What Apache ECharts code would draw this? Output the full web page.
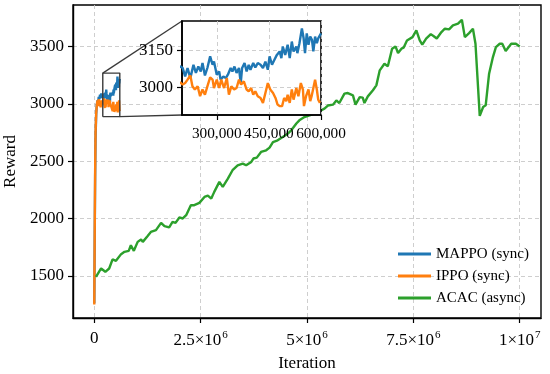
<!DOCTYPE html>
<html><head><meta charset="utf-8">
<script src="https://cdn.jsdelivr.net/npm/echarts@6/dist/echarts.min.js"></script>
<style>html,body{margin:0;padding:0;background:#fff}#c{width:550px;height:374px}</style>
</head><body><div id="c"></div>
<script>
// ---------------- data ----------------
const seriesNames = ['MAPPO (sync)', 'IPPO (sync)', 'ACAC (async)'];
const seriesColors = ['#1f77b4', '#ff7f0e', '#2ca02c'];

const mappoIter = [0,10000,20000,30000,45000,60000,75000,90000,105000,120000,135000,150000,165000,180000,195000,
 202000,209000,216000,224000,233000,240000,247000,254000,259000,266000,273000,281000,288000,292000,300000,307000,311000,319000,326000,332000,340000,345000,351000,357000,364000,369000,373000,380000,386000,392000,397000,405000,411000,418000,426000,433000,440000,447000,452000,459000,466000,473000,481000,486000,490000,497000,504000,510000,516000,521000,529000,532000,538000,545000,550000,554000,559000,564000,569000,574000,578000,583000,588000,592000,597000,600000];
const mappoReward = [1260,1800,2350,2700,2910,2990,3030,3010,3060,3040,3080,3050,3090,3060,3085,
 3078,3044,3078,3037,3091,3058,3084,3064,3098,3048,3078,3125,3091,3104,3051,3064,3031,3044,3037,3051,3078,3064,3084,3058,3078,3017,3078,3098,3064,3091,3071,3098,3080,3098,3091,3078,3104,3071,3125,3091,3111,3131,3145,3118,3165,3131,3172,3118,3185,3145,3165,3138,3178,3238,3198,3138,3218,3172,3205,3192,3145,3205,3178,3198,3205,3218];

const ippoIter = [0,10000,20000,30000,45000,60000,75000,90000,105000,120000,135000,150000,165000,180000,195000,
 202000,209000,216000,224000,230000,237000,245000,252000,259000,266000,273000,281000,288000,292000,300000,307000,313000,321000,329000,335000,342000,350000,357000,364000,370000,378000,386000,392000,399000,405000,411000,418000,426000,433000,440000,447000,454000,462000,469000,475000,481000,488000,494000,500000,504000,510000,516000,521000,529000,535000,542000,548000,551000,557000,564000,569000,573000,578000,583000,588000,592000,597000];
const ippoReward = [1250,1850,2400,2750,2920,2990,3030,2980,3040,3000,3020,2970,3030,3000,3020,
 3011,3017,3031,3048,3004,2991,3004,2964,2991,2970,3004,3040,3031,2997,3031,2997,3031,2997,3037,2970,3004,2991,2997,3031,3011,3024,2991,2984,2997,2970,2984,2964,2957,2937,2977,3017,2991,2977,2957,2930,2924,2924,2957,2944,2970,2937,2991,2950,2997,2964,3017,2991,2924,2964,2991,2944,2964,2997,3031,2991,2950,2937];

const acacIter = [0.04e6,0.16e6,0.26e6,0.35e6,0.43e6,0.51e6,0.63e6,0.71e6,0.81e6,0.86e6,0.93e6,1.02e6,1.10e6,1.14e6,1.25e6,1.33e6,1.45e6,1.57e6,1.65e6,1.76e6,1.84e6,1.91e6,2.00e6,2.08e6,2.16e6,2.27e6,2.35e6,2.47e6,2.59e6,2.67e6,2.75e6,2.82e6,2.94e6,3.02e6,3.14e6,3.25e6,3.37e6,3.49e6,3.57e6,3.69e6,3.74e6,3.82e6,3.92e6,4.04e6,4.12e6,4.20e6,4.31e6,4.43e6,4.53e6,4.63e6,4.75e6,4.82e6,4.94e6,5.06e6,5.18e6,5.29e6,5.41e6,5.49e6,5.61e6,5.69e6,5.76e6,5.88e6,5.96e6,6.08e6,6.14e6,6.24e6,6.31e6,6.35e6,6.43e6,6.55e6,6.63e6,6.71e6,6.82e6,6.90e6,7.00e6,7.08e6,7.14e6,7.22e6,7.27e6,7.35e6,7.48e6,7.57e6,7.65e6,7.71e6,7.80e6,7.91e6,7.98e6,8.05e6,8.16e6,8.24e6,8.34e6,8.43e6,8.55e6,8.64e6,8.71e6,8.81e6,8.90e6,8.96e6,9.06e6,9.14e6,9.20e6,9.28e6,9.37e6,9.44e6,9.53e6,9.59e6,9.67e6,9.80e6,9.91e6,9.94e6,10.0e6];
const acacReward = [1490,1564,1535,1564,1643,1631,1689,1709,1718,1767,1718,1796,1817,1796,1846,1883,1898,1962,1933,1922,1970,1962,2009,2000,2029,2116,2116,2136,2188,2200,2174,2232,2319,2275,2348,2421,2464,2479,2464,2493,2523,2531,2580,2595,2618,2667,2682,2711,2734,2769,2828,2856,2885,2900,2915,2935,2958,2985,2993,3030,3007,3089,3094,3074,2993,3059,3054,3007,3065,3118,3161,3292,3350,3327,3481,3501,3443,3481,3490,3553,3582,3640,3553,3516,3568,3608,3590,3570,3626,3655,3649,3684,3699,3733,3582,3617,3655,3524,2895,2972,2987,3263,3408,3495,3524,3524,3460,3524,3524,3533,3501];

const mainXTicks = [0, 2.5e6, 5e6, 7.5e6, 1e7];
const mainYTicks = [1500, 2000, 2500, 3000, 3500];
const insetXTicks = [300000, 450000, 600000];
const insetYTicks = [3000, 3150];
const mainXRange = [-0.5e6, 10.5e6];
const mainYRange = [1132, 3862];
const insetXRange = [200000, 600000];
const insetYRange = [2888, 3268];

// ---------------- chart ----------------
const FONT = '"Liberation Serif", "Times New Roman", serif';
const zip = (a, b) => a.map((v, i) => [v, b[i]]);
const data = [zip(mappoIter, mappoReward), zip(ippoIter, ippoReward), zip(acacIter, acacReward)];

const chart = echarts.init(document.getElementById('c'), null, {renderer: 'canvas'});

function sciLabel(v) {
  if (v === 0) return '{n|0}';
  const e = Math.floor(Math.log10(v) + 1e-9);
  const m = +(v / Math.pow(10, e)).toFixed(2);
  return '{n|' + m + '×10}{s|' + e + '}';
}
const plainLabel = v => String(v);
const commaLabel = v => String(v).replace(/\B(?=(\d{3})+(?!\d))/g, ',');

const dash = {type: [4, 3], color: '#c8c8c8', width: 0.9};
const tickStyle = {show: true, inside: false, length: 5, lineStyle: {color: '#000', width: 1.2}};

const mainLines = data.map((d, i) => ({
  name: seriesNames[i], type: 'line', xAxisIndex: 0, yAxisIndex: 0, data: d,
  showSymbol: false, symbol: 'none', lineStyle: {width: 2.4, color: seriesColors[i]},
  itemStyle: {color: seriesColors[i]}, z: 2, animation: false
}));
const insetLines = [0, 1].map(i => ({
  name: 'inset-' + i, type: 'line', xAxisIndex: 1, yAxisIndex: 1, data: data[i],
  showSymbol: false, symbol: 'none', lineStyle: {width: 2.4, color: seriesColors[i]},
  itemStyle: {color: seriesColors[i]}, z: 5, clip: true, animation: false
}));
const boxSeries = {
  name: 'box', type: 'line', xAxisIndex: 0, yAxisIndex: 0, showSymbol: false, symbol: 'none',
  data: [[insetXRange[0], insetYRange[0]], [insetXRange[1], insetYRange[0]], [insetXRange[1], insetYRange[1]], [insetXRange[0], insetYRange[1]], [insetXRange[0], insetYRange[0]]],
  lineStyle: {color: '#3a3a3a', width: 1.4}, z: 3, animation: false, silent: true
};

chart.setOption({
  animation: false,
  backgroundColor: '#fff',
  textStyle: {fontFamily: FONT},
  grid: [
    {left: 73, right: 9, top: 5, bottom: 56, show: true, borderColor: '#000', borderWidth: 1.4, backgroundColor: 'transparent', outerBoundsMode: 'none', containLabel: false},
    {left: 182, top: 21, width: 139, height: 94, show: true, borderColor: '#000', borderWidth: 1.6, backgroundColor: '#fff', z: 4, outerBoundsMode: 'none', containLabel: false}
  ],
  xAxis: [
    {type: 'value', gridIndex: 0, min: mainXRange[0], max: mainXRange[1],
     axisLine: {show: true, onZero: false, lineStyle: {color: '#000', width: 1.4}},
     axisTick: Object.assign({customValues: mainXTicks}, tickStyle),
     axisLabel: {customValues: mainXTicks, color: '#000', margin: 12, fontFamily: FONT, formatter: sciLabel,
       showMinLabel: true, showMaxLabel: true, hideOverlap: false,
       rich: {n: {fontSize: 17, fontFamily: FONT, color: '#000', verticalAlign: 'bottom'},
              s: {fontSize: 11, fontFamily: FONT, color: '#000', verticalAlign: 'bottom', padding: [0, 0, 8, 1]}}},
     splitLine: {show: true, lineStyle: dash},
     name: 'Iteration', nameLocation: 'middle', nameGap: 37,
     nameTextStyle: {fontSize: 17, color: '#000', fontFamily: FONT}},
    {type: 'value', gridIndex: 1, min: insetXRange[0], max: insetXRange[1], z: 4,
     axisLine: {show: true, onZero: false, lineStyle: {color: '#000', width: 1.6}},
     axisTick: Object.assign({customValues: insetXTicks}, tickStyle),
     axisLabel: {customValues: insetXTicks, color: '#000', margin: 11, fontSize: 15.3, fontFamily: FONT,
       showMinLabel: true, showMaxLabel: true, hideOverlap: false, interval: 0,
       formatter: commaLabel},
     splitLine: {show: true, lineStyle: dash}}
  ],
  yAxis: [
    {type: 'value', gridIndex: 0, min: mainYRange[0], max: mainYRange[1],
     axisLine: {show: true, onZero: false, lineStyle: {color: '#000', width: 1.4}},
     axisTick: Object.assign({customValues: mainYTicks}, tickStyle),
     axisLabel: {customValues: mainYTicks, color: '#000', margin: 9, fontSize: 17, fontFamily: FONT, formatter: plainLabel},
     splitLine: {show: true, lineStyle: dash},
     name: 'Reward', nameLocation: 'middle', nameGap: 50, nameRotate: 90,
     nameTextStyle: {fontSize: 17, color: '#000', fontFamily: FONT}},
    {type: 'value', gridIndex: 1, min: insetYRange[0], max: insetYRange[1], z: 4,
     axisLine: {show: true, onZero: false, lineStyle: {color: '#000', width: 1.6}},
     axisTick: Object.assign({customValues: insetYTicks}, tickStyle),
     axisLabel: {customValues: insetYTicks, color: '#000', margin: 9, fontSize: 17, fontFamily: FONT, formatter: plainLabel,
       showMinLabel: true, showMaxLabel: true},
     splitLine: {show: true, lineStyle: dash}}
  ],
  legend: {
    data: seriesNames, orient: 'vertical', left: 393, top: 241, icon: 'rect',
    itemWidth: 33, itemHeight: 3, itemGap: 6, backgroundColor: 'transparent',
    textStyle: {fontSize: 15, color: '#000', fontFamily: FONT, lineHeight: 16}
  },
  series: [...mainLines, boxSeries, ...insetLines]
});

// connector lines between zoom box and inset (computed through the chart's scales)
const p1 = chart.convertToPixel({gridIndex: 0}, [insetXRange[0], insetYRange[1]]);
const q1 = chart.convertToPixel({gridIndex: 1}, [insetXRange[0], insetYRange[1]]);
const p2 = chart.convertToPixel({gridIndex: 0}, [insetXRange[1], insetYRange[0]]);
const q2 = chart.convertToPixel({gridIndex: 1}, [insetXRange[0], insetYRange[0]]);
chart.setOption({
  graphic: [
    {type: 'line', shape: {x1: p1[0], y1: p1[1], x2: q1[0], y2: q1[1]}, style: {stroke: '#3a3a3a', lineWidth: 1.3}, z: 3, silent: true},
    {type: 'line', shape: {x1: p2[0], y1: p2[1], x2: q2[0], y2: q2[1]}, style: {stroke: '#3a3a3a', lineWidth: 1.3}, z: 3, silent: true}
  ]
});
</script></body></html>
